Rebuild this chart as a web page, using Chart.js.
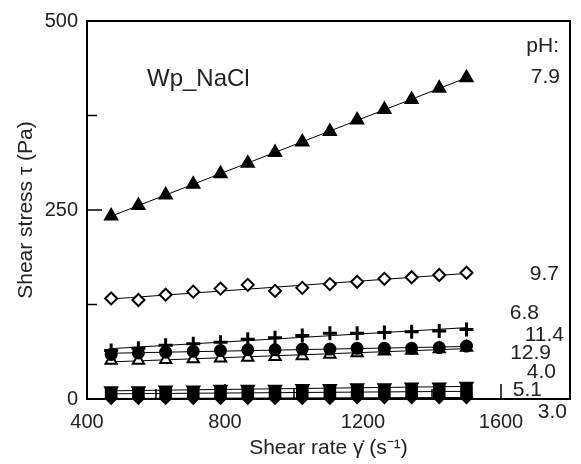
<!DOCTYPE html>
<html>
<head>
<meta charset="utf-8">
<script src="https://cdn.jsdelivr.net/npm/chart.js@4.4.1/dist/chart.umd.min.js"></script>
<style>
  html, body { margin: 0; padding: 0; background: #fff; }
  #wrap { width: 581px; height: 464px; position: relative; }
</style>
</head>
<body>
<div id="wrap"><canvas id="chart"></canvas></div>
<script>
// shear rate (1/s) for every run
const shearRate = [470, 549, 628, 708, 787, 866, 945, 1024, 1104, 1183, 1262, 1341, 1421, 1500];

// shear stress (Pa) per pH
const pH79  = [242, 256, 270, 284, 298, 312, 326, 340, 354, 369, 383, 396, 411, 425];
const pH97  = [133, 131, 138, 142, 146, 151, 143, 147, 152, 155, 159, 161, 164, 167];
const pH114 = [64, 67, 71, 73, 75, 79, 81, 84, 87, 87, 88, 89, 90, 92];
const pH129 = [59, 61, 62, 63, 64, 65, 65, 66, 66, 67, 67, 67, 68, 70];
const pH68  = [51, 51, 52, 53, 54, 55, 56, 57, 59, 61, 63, 64, 66, 68];
const pH40  = [11, 11, 12, 12, 13, 13, 13, 14, 14, 15, 15, 16, 16, 17];
const pH51  = [7, 7, 7, 8, 8, 8, 8, 9, 9, 9, 9, 10, 10, 10];
const pH30  = [1, 1, 1, 1, 1, 1, 1, 1, 1, 2, 2, 2, 2, 2];

const xTicks = [400, 800, 1200, 1600];
const yTicks = [0, 250, 500];
const pHLabels = ['pH:', '7.9', '9.7', '6.8', '11.4', '12.9', '4.0', '5.1', '3.0'];

const FONT = "'Liberation Sans', Arial, sans-serif";

function pts(ys) {
  return shearRate.map((x, i) => ({ x: x, y: ys[i] }));
}

// least squares straight line through a series
function fitLine(ys) {
  const n = shearRate.length;
  let sx = 0, sy = 0, sxx = 0, sxy = 0;
  for (let i = 0; i < n; i++) {
    sx += shearRate[i]; sy += ys[i];
    sxx += shearRate[i] * shearRate[i]; sxy += shearRate[i] * ys[i];
  }
  const b = (n * sxy - sx * sy) / (n * sxx - sx * sx);
  const a = (sy - b * sx) / n;
  const x0 = shearRate[0], x1 = shearRate[n - 1];
  return [{ x: x0, y: a + b * x0 }, { x: x1, y: a + b * x1 }];
}

const series = [
  { ys: pH30,  style: 'rectRot',  r: 5.5, fill: '#000', rot: 0 },
  { ys: pH51,  style: 'rect',     r: 7.5, fill: '#000', rot: 0 },
  { ys: pH40,  style: 'triangle', r: 7,   fill: '#000', rot: 180 },
  { ys: pH68,  style: 'triangle', r: 6.5, fill: '#fff', rot: 0 },
  { ys: pH129, style: 'circle',   r: 5.5, fill: '#000', rot: 0 },
  { ys: pH114, style: 'cross',    r: 7,   fill: '#000', rot: 0 },
  { ys: pH97,  style: 'rectRot',  r: 6,   fill: '#fff', rot: 0 },
  { ys: pH79,  style: 'triangle', r: 7,   fill: '#000', rot: 0 }
];

const datasets = [];
series.forEach((s, i) => {
  datasets.push({
    type: 'line',
    data: fitLine(s.ys),
    borderColor: '#000',
    borderWidth: 1,
    pointRadius: 0,
    fill: false,
    clip: false,
    order: 100
  });
  datasets.push({
    type: 'scatter',
    data: pts(s.ys),
    pointStyle: s.style,
    pointRadius: s.r,
    pointRotation: s.rot,
    pointBackgroundColor: s.fill,
    pointBorderColor: '#000',
    pointBorderWidth: s.style === 'cross' ? 3 : 2,
    showLine: false,
    clip: false,
    order: 50 - i
  });
});

// box around the plot, inward ticks, annotations
const frame = {
  id: 'frame',
  afterDraw(chart) {
    const ctx = chart.ctx;
    const { left, right, top, bottom } = chart.chartArea;
    const xs = chart.scales.x, ys = chart.scales.y;
    ctx.save();
    ctx.strokeStyle = '#000';
    ctx.lineWidth = 2;
    ctx.beginPath();
    ctx.moveTo(left, top); ctx.lineTo(right, top);
    ctx.lineTo(right, bottom); ctx.lineTo(left, bottom);
    ctx.closePath();
    ctx.stroke();

    ctx.lineWidth = 1.5;
    ctx.beginPath();
    for (let v = 600; v < 1800; v += 200) {
      const px = xs.getPixelForValue(v);
      const len = xTicks.includes(v) ? 15 : 10;
      ctx.moveTo(px, bottom); ctx.lineTo(px, bottom - len);
    }
    for (let v = 125; v <= 500; v += 125) {
      const py = ys.getPixelForValue(v);
      const len = yTicks.includes(v) ? 15 : 10;
      ctx.moveTo(left, py); ctx.lineTo(left + len, py);
    }
    ctx.stroke();

    ctx.fillStyle = '#222';
    ctx.textBaseline = 'middle';
    ctx.textAlign = 'left';
    ctx.font = '24px ' + FONT;
    ctx.fillText('Wp_NaCl', left + 60, ys.getPixelForValue(423));

    // pH tags: right edge offset from the plot border, height in Pa
    const tagPos = [[11, 467], [10, 425], [11, 165], [31, 113], [6, 85], [19, 60], [14, 35], [28, 12], [3, -18]];
    ctx.font = '21px ' + FONT;
    ctx.textAlign = 'right';
    pHLabels.forEach((t, i) => {
      ctx.fillText(t, right - tagPos[i][0], ys.getPixelForValue(tagPos[i][1]));
    });
    ctx.restore();
  }
};

new Chart(document.getElementById('chart'), {
  data: { datasets: datasets },
  options: {
    responsive: true,
    maintainAspectRatio: false,
    animation: false,
    layout: { padding: { top: 18, right: 5, left: 0, bottom: 0 } },
    plugins: { legend: { display: false }, tooltip: { enabled: false } },
    scales: {
      x: {
        type: 'linear',
        min: 400,
        max: 1800,
        grid: { display: false, drawTicks: false },
        border: { display: false },
        ticks: {
          stepSize: 200,
          padding: 11,
          color: '#222',
          font: { family: FONT, size: 20 },
          maxRotation: 0,
          callback: v => xTicks.includes(v) ? String(v) : ''
        },
        title: {
          display: true,
          text: 'Shear rate γ̇ (s⁻¹)',
          color: '#222',
          font: { family: FONT, size: 21 },
          padding: { top: 0, bottom: 3 }
        },
        afterFit: s => { s.height = 65; }
      },
      y: {
        type: 'linear',
        min: 0,
        max: 500,
        grid: { display: false, drawTicks: false },
        border: { display: false },
        ticks: {
          stepSize: 125,
          padding: 9,
          color: '#222',
          font: { family: FONT, size: 20 },
          callback: v => yTicks.includes(v) ? String(v) : ''
        },
        title: {
          display: true,
          text: 'Shear stress τ (Pa)',
          color: '#222',
          font: { family: FONT, size: 21 },
          padding: { top: 14, bottom: 0 }
        },
        afterFit: s => { s.width = 87; }
      }
    }
  },
  plugins: [frame]
});
</script>
</body>
</html>
